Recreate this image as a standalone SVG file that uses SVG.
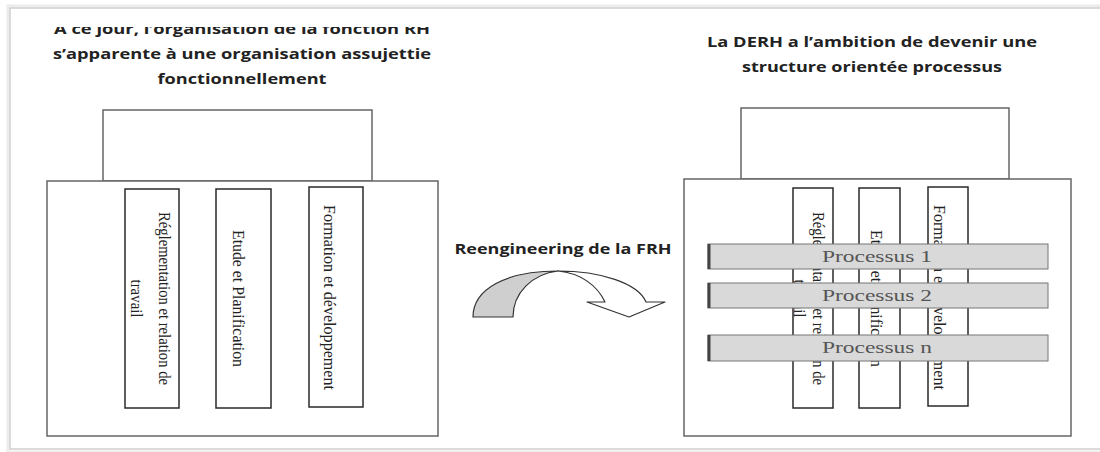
<svg xmlns="http://www.w3.org/2000/svg" width="1100" height="452" viewBox="0 0 1100 452">
<defs>
<style>
.title{font-family:"Open Sans","Liberation Sans",sans-serif;font-weight:bold;font-size:15px;fill:#222;text-anchor:middle}
.box{fill:#fff;stroke:#666;stroke-width:1.5}
.col{fill:#fff;stroke:#2a2a2a;stroke-width:1.5}
.ct{font-family:"Liberation Serif","Times New Roman",serif;font-size:17px;fill:#222;text-anchor:middle;dominant-baseline:central}
.bar{fill:#d9d9d9;stroke:#777;stroke-width:1}
.bt{font-family:"Liberation Serif","Times New Roman",serif;font-size:16px;fill:#555;text-anchor:middle}
.edge{stroke:#444;stroke-width:3}
</style>
<clipPath id="clipTop"><rect x="0" y="27" width="1100" height="100"/></clipPath>
</defs>
<rect x="0" y="0" width="1100" height="452" fill="#fff"/>
<g id="page">
<rect x="8" y="6" width="1100" height="446" fill="none" stroke="#ececec" stroke-width="3"/>
<rect x="10" y="8" width="1100" height="441" fill="#fff" stroke="#cfcfcf" stroke-width="1.5"/>
</g>
<g id="title-left">
<text class="title" x="242" y="34" textLength="376" lengthAdjust="spacingAndGlyphs" clip-path="url(#clipTop)">A ce jour, l’organisation de la fonction RH</text>
<text class="title" x="242" y="59" textLength="378" lengthAdjust="spacingAndGlyphs">s’apparente à une organisation assujettie</text>
<text class="title" x="242" y="84" textLength="169" lengthAdjust="spacingAndGlyphs">fonctionnellement</text>
</g>
<g id="title-right">
<text class="title" x="872" y="47" textLength="330" lengthAdjust="spacingAndGlyphs">La DERH a l’ambition de devenir une</text>
<text class="title" x="872" y="72" textLength="260" lengthAdjust="spacingAndGlyphs">structure orientée processus</text>
</g>
<g id="left-structure">
<rect class="box" x="103" y="110" width="269" height="71"/>
<rect class="box" x="47" y="181" width="391" height="255"/>
<g id="left-col1">
<rect class="col" x="125" y="189" width="54" height="219"/>
<text class="ct" transform="translate(164,298.5) rotate(90)" textLength="173" lengthAdjust="spacingAndGlyphs">Réglementation et relation de</text>
<text class="ct" transform="translate(136,298.5) rotate(90)" textLength="38" lengthAdjust="spacingAndGlyphs">travail</text>
</g>
<g id="left-col2">
<rect class="col" x="216" y="189" width="55" height="219"/>
<text class="ct" transform="translate(238,298.5) rotate(90)" textLength="137" lengthAdjust="spacingAndGlyphs">Etude et Planification</text>
</g>
<g id="left-col3">
<rect class="col" x="309" y="187" width="54" height="220"/>
<text class="ct" transform="translate(329,297.5) rotate(90)" textLength="185" lengthAdjust="spacingAndGlyphs">Formation et développement</text>
</g>
</g>
<g id="right-structure">
<rect class="box" x="741" y="108" width="268" height="71"/>
<rect class="box" x="684" y="179" width="387" height="257"/>
<g id="right-col1">
<rect class="col" x="793" y="188" width="40" height="220"/>
<text class="ct" transform="translate(818,298.5) rotate(90)" textLength="173" lengthAdjust="spacingAndGlyphs">Réglementation et relation de</text>
<text class="ct" transform="translate(799,298.5) rotate(90)" textLength="38" lengthAdjust="spacingAndGlyphs">travail</text>
</g>
<g id="right-col2">
<rect class="col" x="859" y="188" width="41" height="220"/>
<text class="ct" transform="translate(876,298.5) rotate(90)" textLength="137" lengthAdjust="spacingAndGlyphs">Etude et Planification</text>
</g>
<g id="right-col3">
<rect class="col" x="928" y="187" width="40" height="219"/>
<text class="ct" transform="translate(939,297.5) rotate(90)" textLength="185" lengthAdjust="spacingAndGlyphs">Formation et développement</text>
</g>
<g id="processus-1">
<rect class="bar" x="708" y="244" width="340" height="25"/>
<line class="edge" x1="709" y1="244" x2="709" y2="269"/>
<text class="bt" x="877" y="261.5" textLength="110" lengthAdjust="spacingAndGlyphs">Processus 1</text>
</g>
<g id="processus-2">
<rect class="bar" x="708" y="283" width="340" height="25"/>
<line class="edge" x1="709" y1="283" x2="709" y2="308"/>
<text class="bt" x="877" y="300.5" textLength="110" lengthAdjust="spacingAndGlyphs">Processus 2</text>
</g>
<g id="processus-n">
<rect class="bar" x="708" y="335" width="340" height="26"/>
<line class="edge" x1="709" y1="335" x2="709" y2="361"/>
<text class="bt" x="877" y="353" textLength="110" lengthAdjust="spacingAndGlyphs">Processus n</text>
</g>
</g>
<g id="connectors">
<text class="title" x="563" y="254" textLength="217" lengthAdjust="spacingAndGlyphs">Reengineering de la FRH</text>
<path d="M473,317 C473,289 506,271 558,271 C532,274 513,293 513,317 Z" fill="#cfcfcf" stroke="#333" stroke-width="1.2" stroke-linejoin="round"/>
<path d="M558,271 C600,271 638,283 646,302 L665,302 L629,317 L587,302 L605,302 C597,285 580,273 558,271 Z" fill="#fff" stroke="#333" stroke-width="1.2" stroke-linejoin="round"/>
</g>
</svg>
